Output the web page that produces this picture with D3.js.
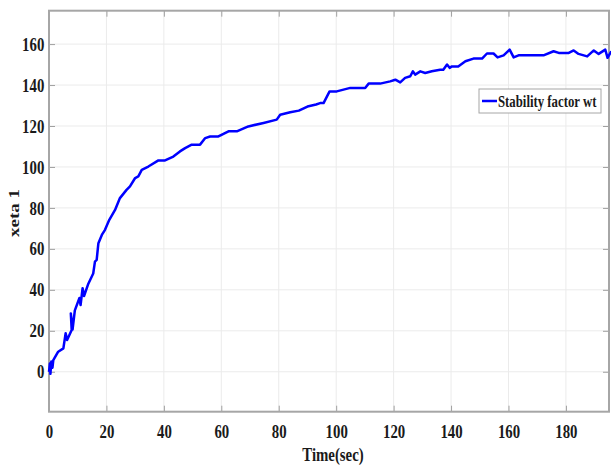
<!DOCTYPE html>
<html>
<head>
<meta charset="utf-8">
<script src="https://cdn.jsdelivr.net/npm/d3@7"></script>
<style>
  body { margin: 0; background: #fff; }
  text { font-family: "Liberation Serif", "Times New Roman", serif; font-weight: bold; fill: #1a1a1a; }
</style>
</head>
<body>
<svg id="chart" width="611" height="467"></svg>
<script>
// stability factor curve
const timeSec = [0, 0.3, 0.5, 0.8, 1.2, 1.5, 3.2, 5, 5.8, 6.3, 7.9, 7.6, 8.2, 9, 10.6, 11, 11.7, 12.2, 13.7, 15.4, 16, 16.6,
  17.2, 18.4, 19.5, 21, 23, 24.7, 27, 28.2, 30, 31.1, 32.3, 34.6, 38.1, 40.4, 43.3, 45.6, 47.4, 49.7, 52.6, 54.4, 56.1,
  59, 62.5, 65.4, 69.4, 74.7, 79.3, 80.5, 84, 87, 90, 93, 94.4, 95.6, 97.7, 100.2, 104.9, 110.1, 111.3, 115.3, 118.8,
  120.6, 122.3, 124, 125.8, 126.7, 127.5, 129.3, 131, 133.3, 136.2, 137.3, 138.6, 139.5, 140.3, 142.5, 145, 147.8,
  150.8, 152.5, 154.8, 156.2, 158.3, 160.4, 161.8, 163.5, 172.2, 175.7, 177.5, 181, 182.7, 184.4, 187.4, 189.7, 191.4,
  193.7, 194.5, 195.8];
const xeta = [0, 4, -1, 5, 2, 5.7, 9.8, 11.4, 18.8, 15.5, 20.4, 28.5, 20.6, 30, 36, 32.6, 40.8, 37, 43, 48, 53.8, 54.6,
  62.8, 66.8, 69.3, 74.2, 79, 84.8, 88.8, 90.5, 94.6, 95.4, 98.6, 100.2, 103.2, 103.2, 105.1, 107.6, 109.2, 110.9, 110.9,
  114.1, 114.9, 114.9, 117.4, 117.4, 119.8, 121.5, 123.1, 125.5, 126.7, 127.5, 129.5, 130.5, 131.2, 131.2, 136.9,
  136.9, 138.6, 138.6, 140.7, 140.7, 141.8, 142.6, 141.3, 143.5, 144.3, 146.7, 145.1, 146.7, 145.9, 146.7, 147.5,
  147.5, 150, 148.4, 149.1, 149.1, 151.6, 152.9, 152.9, 155.4, 155.4, 153.5, 154.5, 157.3, 153.5, 154.5, 154.5, 156.5,
  155.7, 155.7, 156.9, 155.2, 154, 156.9, 155.2, 157.3, 153.3, 156.5];
const xTicks = [0, 20, 40, 60, 80, 100, 120, 140, 160, 180];
const yTicks = [0, 20, 40, 60, 80, 100, 120, 140, 160];
const seriesName = "Stability factor wt";

const svg = d3.select("#chart");
const m = { left: 49, right: 609, top: 10.7, bottom: 411.7 };
const squeeze = 0.78; // the picture's lettering is narrow

const x = d3.scaleLinear().domain([0, 195]).range([m.left, m.right]);
const y = d3.scaleLinear().domain([-19.5, 176.3]).range([m.bottom, m.top]);

// grid
svg.append("g").selectAll("line").data(xTicks.slice(1)).join("line")
  .attr("x1", d => x(d)).attr("x2", d => x(d))
  .attr("y1", m.top).attr("y2", m.bottom)
  .attr("stroke", "#ebebeb").attr("stroke-width", 1);
svg.append("g").selectAll("line").data(yTicks).join("line")
  .attr("x1", m.left).attr("x2", m.right)
  .attr("y1", d => y(d)).attr("y2", d => y(d))
  .attr("stroke", "#ebebeb").attr("stroke-width", 1);

// axes, ticks pointing inward
function styleAxis(g) {
  g.select(".domain").remove();
  g.selectAll(".tick line").attr("stroke", "#a0a0a0").attr("stroke-width", 1);
  g.selectAll(".tick text").attr("font-size", 19).attr("fill", "#1a1a1a")
    .attr("transform", `scale(${squeeze},1)`);
}

svg.append("g").attr("transform", `translate(0,${m.bottom})`)
  .call(d3.axisBottom(x).tickValues(xTicks).tickSizeInner(-6).tickSizeOuter(0).tickPadding(12.5))
  .call(styleAxis);
svg.append("g").attr("transform", `translate(${m.left},0)`)
  .call(d3.axisLeft(y).tickValues(yTicks).tickSizeInner(-6).tickSizeOuter(0).tickPadding(6))
  .call(styleAxis);
svg.append("g").attr("transform", `translate(0,${m.top})`)
  .call(d3.axisTop(x).tickValues(xTicks).tickSizeInner(-6).tickSizeOuter(0).tickFormat(""))
  .call(styleAxis);
svg.append("g").attr("transform", `translate(${m.right},0)`)
  .call(d3.axisRight(y).tickValues(yTicks).tickSizeInner(-6).tickSizeOuter(0).tickFormat(""))
  .call(styleAxis);

// frame
svg.append("rect")
  .attr("x", m.left).attr("y", m.top)
  .attr("width", m.right - m.left).attr("height", m.bottom - m.top)
  .attr("fill", "none").attr("stroke", "#a6a6a6").attr("stroke-width", 2);

// data line
const pts = timeSec.map((t, i) => [t, xeta[i]]);
svg.append("path")
  .datum(pts)
  .attr("fill", "none")
  .attr("stroke", "#0000ff")
  .attr("stroke-width", 2.5)
  .attr("stroke-linejoin", "round")
  .attr("d", d3.line().x(d => x(d[0])).y(d => y(d[1])));

// axis titles
svg.append("text")
  .attr("transform", `translate(333,461) scale(${squeeze},1)`)
  .attr("text-anchor", "middle").attr("font-size", 19)
  .text("Time(sec)");
// rotated: the narrowing acts across the letters, not along the word
svg.append("text")
  .attr("transform", `translate(19,213) rotate(-90) scale(1,${squeeze})`)
  .attr("text-anchor", "middle").attr("font-size", 19)
  .text("xeta 1");

// legend
const lg = svg.append("g");
lg.append("rect")
  .attr("x", 479).attr("y", 89).attr("width", 122).attr("height", 24)
  .attr("fill", "#fff").attr("stroke", "#a6a6a6").attr("stroke-width", 1);
lg.append("line")
  .attr("x1", 482).attr("x2", 497).attr("y1", 101).attr("y2", 101)
  .attr("stroke", "#0000ff").attr("stroke-width", 2.5);
lg.append("text")
  .attr("transform", `translate(498,106.5) scale(0.8,1)`)
  .attr("font-size", 16)
  .text(seriesName);
</script>
</body>
</html>
